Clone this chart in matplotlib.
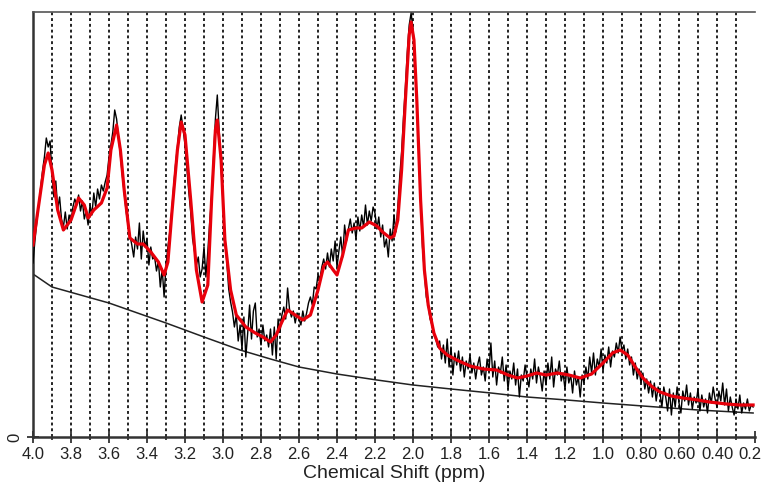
"""MRS spectrum with LCModel-style fit: raw data (black), fit (red), baseline."""

import matplotlib

matplotlib.use("Agg")
import matplotlib.pyplot as plt
from matplotlib.transforms import ScaledTranslation

plt.rcParams["font.family"] = ["Liberation Sans", "DejaVu Sans"]

# fitted spectrum (ppm, intensity)
FIT = [
    (4.00, 192), (3.97, 232), (3.94, 272), (3.92, 284), (3.90, 267), (3.87, 227),
    (3.84, 207), (3.80, 217), (3.76, 239), (3.73, 232), (3.71, 219), (3.68, 227),
    (3.64, 234), (3.61, 249), (3.59, 287), (3.56, 312), (3.54, 287), (3.52, 247),
    (3.49, 199), (3.45, 193), (3.42, 193), (3.38, 185), (3.34, 175), (3.31, 162),
    (3.29, 175), (3.27, 222), (3.24, 287), (3.22, 315), (3.20, 302), (3.17, 237),
    (3.14, 167), (3.11, 135), (3.08, 152), (3.06, 237), (3.04, 307), (3.03, 317),
    (3.01, 277), (2.99, 197), (2.96, 147), (2.93, 122), (2.88, 110), (2.83, 104),
    (2.79, 100), (2.75, 95), (2.72, 102), (2.69, 115), (2.66, 127), (2.62, 122),
    (2.58, 117), (2.54, 122), (2.50, 147), (2.47, 171), (2.45, 175), (2.42, 167),
    (2.40, 162), (2.37, 182), (2.34, 207), (2.30, 209), (2.27, 209), (2.23, 215),
    (2.19, 211), (2.16, 205), (2.12, 199), (2.10, 201), (2.08, 217), (2.06, 267),
    (2.04, 337), (2.02, 402), (2.01, 415), (1.995, 397), (1.98, 337), (1.96, 237),
    (1.94, 167), (1.92, 132), (1.89, 104), (1.86, 89), (1.82, 82), (1.77, 77),
    (1.70, 71), (1.63, 68), (1.56, 67), (1.50, 62), (1.45, 59), (1.40, 61),
    (1.35, 64), (1.30, 62), (1.24, 64), (1.18, 62), (1.12, 59), (1.06, 63),
    (1.00, 74), (0.95, 84), (0.91, 87), (0.87, 82), (0.83, 70), (0.79, 59),
    (0.74, 50), (0.70, 45), (0.64, 41), (0.58, 39), (0.50, 37), (0.44, 35),
    (0.35, 33), (0.28, 32), (0.21, 32),
]

# raw (noisy) spectrum, 0.01 ppm sampling
DATA = [
    (4.00, 174), (3.99, 196), (3.98, 215), (3.97, 232), (3.96, 250), (3.95, 266),
    (3.94, 280), (3.93, 299), (3.92, 290), (3.91, 296), (3.90, 262), (3.89, 240),
    (3.88, 256), (3.87, 228), (3.86, 240), (3.85, 218), (3.84, 210), (3.83, 225),
    (3.82, 208), (3.81, 222), (3.80, 215), (3.79, 230), (3.78, 238), (3.77, 232),
    (3.76, 242), (3.75, 226), (3.74, 236), (3.73, 218), (3.72, 226), (3.71, 212),
    (3.70, 232), (3.69, 222), (3.68, 244), (3.67, 230), (3.66, 248), (3.65, 238),
    (3.64, 252), (3.63, 246), (3.62, 255), (3.61, 262), (3.60, 280), (3.59, 292),
    (3.58, 305), (3.57, 327), (3.56, 318), (3.55, 300), (3.54, 282), (3.53, 262),
    (3.52, 244), (3.51, 226), (3.50, 212), (3.49, 202), (3.48, 192), (3.47, 180),
    (3.46, 200), (3.45, 188), (3.44, 214), (3.43, 178), (3.42, 206), (3.41, 190),
    (3.40, 198), (3.39, 172), (3.38, 190), (3.37, 178), (3.36, 180), (3.35, 166),
    (3.34, 176), (3.33, 150), (3.32, 168), (3.31, 140), (3.30, 172), (3.29, 190),
    (3.28, 205), (3.27, 225), (3.26, 250), (3.25, 272), (3.24, 290), (3.23, 310),
    (3.22, 322), (3.21, 308), (3.20, 292), (3.19, 268), (3.18, 245), (3.17, 225),
    (3.16, 198), (3.15, 186), (3.14, 172), (3.13, 180), (3.12, 160), (3.11, 168),
    (3.10, 190), (3.09, 160), (3.08, 185), (3.07, 215), (3.06, 240), (3.05, 280),
    (3.04, 318), (3.03, 342), (3.02, 305), (3.01, 270), (3.00, 235), (2.99, 200),
    (2.98, 175), (2.97, 148), (2.96, 135), (2.95, 125), (2.94, 110), (2.93, 122),
    (2.92, 96), (2.91, 112), (2.90, 88), (2.89, 120), (2.88, 80), (2.87, 104),
    (2.86, 132), (2.85, 98), (2.84, 126), (2.83, 134), (2.82, 100), (2.81, 108),
    (2.80, 92), (2.79, 112), (2.78, 96), (2.77, 102), (2.76, 90), (2.75, 108),
    (2.74, 82), (2.73, 110), (2.72, 78), (2.71, 118), (2.70, 105), (2.69, 122),
    (2.68, 130), (2.67, 118), (2.66, 149), (2.65, 128), (2.64, 120), (2.63, 126),
    (2.62, 114), (2.61, 124), (2.60, 118), (2.59, 112), (2.58, 126), (2.57, 116),
    (2.56, 124), (2.55, 134), (2.54, 140), (2.53, 132), (2.52, 150), (2.51, 148),
    (2.50, 162), (2.49, 158), (2.48, 170), (2.47, 178), (2.46, 168), (2.45, 184),
    (2.44, 170), (2.43, 188), (2.42, 176), (2.41, 196), (2.40, 170), (2.39, 186),
    (2.38, 200), (2.37, 180), (2.36, 212), (2.35, 196), (2.34, 208), (2.33, 218),
    (2.32, 204), (2.31, 214), (2.30, 198), (2.29, 220), (2.28, 206), (2.27, 222),
    (2.26, 210), (2.25, 232), (2.24, 212), (2.23, 226), (2.22, 216), (2.21, 230),
    (2.20, 224), (2.19, 208), (2.18, 220), (2.17, 200), (2.16, 212), (2.15, 190),
    (2.14, 198), (2.13, 180), (2.12, 208), (2.11, 196), (2.10, 222), (2.09, 205),
    (2.08, 230), (2.07, 260), (2.06, 285), (2.05, 320), (2.04, 350), (2.03, 385),
    (2.02, 412), (2.01, 424), (2.00, 408), (1.99, 380), (1.98, 335), (1.97, 290),
    (1.96, 240), (1.95, 190), (1.94, 165), (1.93, 140), (1.92, 132), (1.91, 118),
    (1.90, 112), (1.89, 102), (1.88, 98), (1.87, 90), (1.86, 96), (1.85, 78),
    (1.84, 92), (1.83, 74), (1.82, 98), (1.81, 70), (1.80, 90), (1.79, 62),
    (1.78, 84), (1.77, 72), (1.76, 86), (1.75, 66), (1.74, 80), (1.73, 60),
    (1.72, 76), (1.71, 68), (1.70, 82), (1.69, 64), (1.68, 74), (1.67, 58),
    (1.66, 72), (1.65, 80), (1.64, 62), (1.63, 70), (1.62, 56), (1.61, 78),
    (1.60, 66), (1.59, 94), (1.58, 60), (1.57, 76), (1.56, 52), (1.55, 70),
    (1.54, 64), (1.53, 80), (1.52, 56), (1.51, 72), (1.50, 48), (1.49, 66),
    (1.48, 58), (1.47, 74), (1.46, 52), (1.45, 68), (1.44, 40), (1.43, 62),
    (1.42, 56), (1.41, 72), (1.40, 60), (1.39, 50), (1.38, 68), (1.37, 58),
    (1.36, 78), (1.35, 54), (1.34, 70), (1.33, 60), (1.32, 46), (1.31, 66),
    (1.30, 52), (1.29, 74), (1.28, 58), (1.27, 80), (1.26, 50), (1.25, 68),
    (1.24, 62), (1.23, 76), (1.22, 56), (1.21, 64), (1.20, 48), (1.19, 70),
    (1.18, 54), (1.17, 62), (1.16, 44), (1.15, 66), (1.14, 52), (1.13, 60),
    (1.12, 40), (1.11, 62), (1.10, 54), (1.09, 70), (1.08, 58), (1.07, 80),
    (1.06, 64), (1.05, 84), (1.04, 62), (1.03, 78), (1.02, 70), (1.01, 88),
    (1.00, 66), (0.99, 82), (0.98, 74), (0.97, 90), (0.96, 70), (0.95, 86),
    (0.94, 80), (0.93, 94), (0.92, 84), (0.91, 100), (0.90, 86), (0.89, 92),
    (0.88, 78), (0.87, 88), (0.86, 72), (0.85, 80), (0.84, 62), (0.83, 74),
    (0.82, 58), (0.81, 68), (0.80, 54), (0.79, 64), (0.78, 48), (0.77, 58),
    (0.76, 44), (0.75, 56), (0.74, 40), (0.73, 54), (0.72, 36), (0.71, 50),
    (0.70, 44), (0.69, 30), (0.68, 50), (0.67, 40), (0.66, 26), (0.65, 48),
    (0.64, 22), (0.63, 44), (0.62, 30), (0.61, 50), (0.60, 34), (0.59, 24),
    (0.58, 46), (0.57, 36), (0.56, 52), (0.55, 32), (0.54, 44), (0.53, 28),
    (0.52, 40), (0.51, 34), (0.50, 48), (0.49, 26), (0.48, 42), (0.47, 30),
    (0.46, 38), (0.45, 24), (0.44, 44), (0.43, 34), (0.42, 50), (0.41, 38),
    (0.40, 30), (0.39, 46), (0.38, 36), (0.37, 54), (0.36, 32), (0.35, 48),
    (0.34, 26), (0.33, 40), (0.32, 30), (0.31, 22), (0.30, 38), (0.29, 28),
    (0.28, 42), (0.27, 24), (0.26, 34), (0.25, 28), (0.24, 38), (0.23, 26),
    (0.22, 32), (0.21, 30),
]

BASELINE = [
    (4.00, 163), (3.90, 150), (3.75, 142), (3.60, 134), (3.45, 124), (3.30, 114),
    (3.10, 100), (2.91, 87), (2.75, 78), (2.60, 70), (2.40, 63), (2.19, 57),
    (2.00, 52), (1.80, 48), (1.59, 44), (1.40, 40), (1.19, 37), (1.00, 34),
    (0.79, 31), (0.50, 27), (0.21, 24),
]

MAJOR_TICKS = [4.0, 3.8, 3.6, 3.4, 3.2, 3.0, 2.8, 2.6, 2.4, 2.2, 2.0,
               1.8, 1.6, 1.4, 1.2, 1.0, 0.8, 0.6, 0.4, 0.2]
MAJOR_LABELS = ["4.0", "3.8", "3.6", "3.4", "3.2", "3.0", "2.8", "2.6", "2.4", "2.2",
                "2.0", "1.8", "1.6", "1.4", "1.2", "1.0", "0.80", "0.60", "0.40", "0.2"]
MINOR_TICKS = [3.9, 3.7, 3.5, 3.3, 3.1, 2.9, 2.7, 2.5, 2.3, 2.1,
               1.9, 1.7, 1.5, 1.3, 1.1, 0.9, 0.7, 0.5, 0.3]


def xy(pairs):
    return [p[0] for p in pairs], [p[1] for p in pairs]


fig = plt.figure(figsize=(7.63, 4.86), dpi=100)
ax = fig.add_axes([33 / 763, 49 / 486, 722 / 763, 425 / 486])

# dotted vertical grid at every 0.1 ppm inside the frame
for x in MAJOR_TICKS[1:-1] + MINOR_TICKS:
    ax.axvline(x, color="#111111", linewidth=1.3, linestyle=(0, (1.6, 1.6)), zorder=1)

ax.plot(*xy(BASELINE), color="#222222", linewidth=1.1, zorder=2)
ax.plot(*xy(DATA), color="black", linewidth=1.0, zorder=3)
ax.plot(*xy(FIT), color="#e8000b", linewidth=2.3, zorder=4)

ax.set_xlim(4.0, 0.2)
ax.set_ylim(0, 425)

ax.set_xticks(MAJOR_TICKS)
ax.set_xticklabels(MAJOR_LABELS, fontsize=12)
ax.set_xticks(MINOR_TICKS, minor=True)
ax.tick_params(axis="x", which="major", direction="inout", length=8, width=1.3,
               pad=3, colors="#333333", labelcolor="#222222")
ax.tick_params(axis="x", which="minor", direction="inout", length=5, width=1.3,
               colors="#333333")
# the last label sits at the right edge of the figure; nudge it inward
last = ax.get_xticklabels()[-1]
last.set_transform(last.get_transform() + ScaledTranslation(-5 / 100, 0, fig.dpi_scale_trans))

ax.set_yticks([0])
ax.set_yticklabels(["0"], rotation=90, va="center", fontsize=12)
ax.tick_params(axis="y", direction="inout", length=8, width=1.3, colors="#333333",
               labelcolor="#222222")

ax.spines["right"].set_visible(False)
ax.spines["top"].set_color("#555555")
ax.spines["top"].set_linewidth(1.2)
for side in ("left", "bottom"):
    ax.spines[side].set_color("#333333")
    ax.spines[side].set_linewidth(1.8)

ax.set_xlabel("Chemical Shift (ppm)", fontsize=14, color="#222222", labelpad=2)

fig.savefig("out.png", dpi=100, facecolor="white")
